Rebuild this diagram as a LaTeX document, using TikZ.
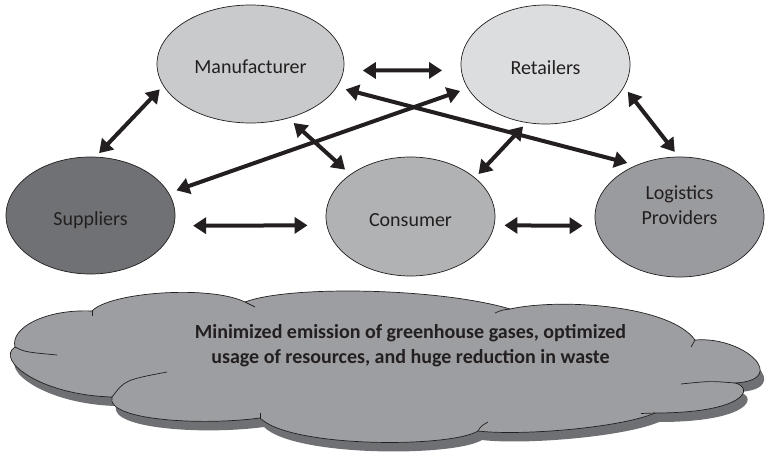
\documentclass[tikz,border=0pt]{standalone}
\usepackage{fontspec}
\setmainfont{Carlito}
\usetikzlibrary{arrows.meta,shapes.geometric}
\definecolor{manfill}{HTML}{C9CACC}
\definecolor{retfill}{HTML}{DCDDDF}
\definecolor{supfill}{HTML}{707174}
\definecolor{confill}{HTML}{B1B2B4}
\definecolor{lgpfill}{HTML}{9A9B9E}
\definecolor{cloudfill}{HTML}{9D9EA1}
\definecolor{cloudshade}{HTML}{6F7073}
\definecolor{ink}{HTML}{231F20}
% outline of the cloud, lobe by lobe
\newcommand{\cloudoutline}{(15,347)
  .. controls (10,328) and (45,309) .. (92,311)
  .. controls (110,292) and (210,285) .. (245,302)
  .. controls (290,285) and (440,288) .. (510,309)
  .. controls (560,298) and (670,305) .. (695,340)
  .. controls (745,336) and (790,380) .. (735,383)
  .. controls (755,388) and (745,413) .. (655,413)
  .. controls (620,428) and (520,436) .. (478,431)
  .. controls (450,448) and (290,448) .. (260,418)
  .. controls (200,426) and (105,420) .. (112,397)
  .. controls (40,395) and (-5,360) .. (15,347) -- cycle}
\begin{document}
\begin{tikzpicture}[x=1pt,y=-1pt,
    actor/.style={ellipse,draw=ink,line width=0.7pt,inner sep=0pt,
      minimum width=169pt,minimum height=119pt,text=ink,
      font=\fontsize{20}{25}\selectfont},
    oneline/.style={text height=20pt,text depth=0pt},
    link/.style={{Triangle[length=13pt,width=16pt]}-{Triangle[length=13pt,width=16pt]},
      line width=4pt,draw=ink}]
   \useasboundingbox (0,0) rectangle (768,457);
   % the five partners
   \node[actor,oneline,fill=manfill,minimum width=187pt,minimum height=118pt] (man) at (250.5,64) {Manufacturer};
   \node[actor,oneline,fill=retfill] (ret) at (545.5,64.5) {Retailers};
   \node[actor,oneline,fill=supfill,minimum height=117pt] (sup) at (90.5,215.5) {Suppliers};
   \node[actor,oneline,fill=confill] (con) at (410.5,216.5) {Consumer};
   \node[actor,fill=lgpfill,minimum height=120pt,align=center,text depth=24pt] (lgp) at (679.5,217) {Logistics\\Providers};
   % links between them
   \draw[link,shorten <=19pt,shorten >=19pt] (man.-4) -- (ret.184);
   \draw[link,shorten <=5pt,shorten >=5pt] (man.194) -- (sup.85);
   \draw[link,shorten <=7pt,shorten >=7pt] (man.-55) -- (con.145);
   \draw[link,shorten <=9pt,shorten >=9pt] (man.-15) -- (lgp.130);
   \draw[link,shorten <=8pt,shorten >=8pt] (ret.197) -- (sup.16);
   \draw[link,shorten <=5pt,shorten >=5pt] (ret.252) -- (con.31);
   \draw[link,shorten <=6pt,shorten >=6pt] (ret.-16) -- (lgp.91);
   \draw[link,shorten <=19pt,shorten >=19pt] (sup.-7) -- (con.186);
   \draw[link,shorten <=10pt,shorten >=13pt] (con.-6) -- (lgp.186);
   % outcome cloud with its shadow and inner lobe lines
   \fill[cloudshade,shift={(4,9)}] \cloudoutline;
   \filldraw[fill=cloudfill,draw=ink,line width=0.7pt] \cloudoutline;
   \draw[ink,line width=0.7pt] (15,347) .. controls (25,352) .. (57,355);
   \draw[ink,line width=0.7pt] (92,311) -- (92,316);
   \draw[ink,line width=0.7pt] (245,302) -- (255,307);
   \draw[ink,line width=0.7pt] (510,309) .. controls (502,310) .. (495,313);
   \draw[ink,line width=0.7pt] (695,340) -- (691,347);
   \draw[ink,line width=0.7pt] (735,383) .. controls (710,381) .. (681,384);
   \draw[ink,line width=0.7pt] (655,413) -- (641,413.5);
   \draw[ink,line width=0.7pt] (478,431) .. controls (481,426) .. (488,422);
   \draw[ink,line width=0.7pt] (260,418) -- (260,413);
   \draw[ink,line width=0.7pt] (112,397) .. controls (125,380) .. (167,372);
   \node[align=center,text=ink,font=\bfseries\fontsize{20}{25}\selectfont] (goal) at (410.5,346)
     {Minimized emission of greenhouse gases, optimized\\usage of resources, and huge reduction in waste};
\end{tikzpicture}
\end{document}
